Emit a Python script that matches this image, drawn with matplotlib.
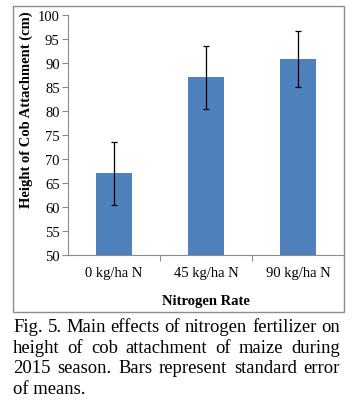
import matplotlib
matplotlib.use("Agg")
import matplotlib.pyplot as plt
from matplotlib.patches import Rectangle

# data
rates = ["0 kg/ha N", "45 kg/ha N", "90 kg/ha N"]
cob_height = [67.0, 87.0, 90.8]
std_err = [6.5, 6.5, 5.8]

caption_lines = ["Fig. 5. Main effects of nitrogen fertilizer on",
                 "height of cob attachment of maize during",
                 "2015 season. Bars represent standard error",
                 "of means."]

plt.rcParams['font.family'] = ['Liberation Serif', 'DejaVu Serif']

W, H = 354, 406
fig = plt.figure(figsize=(W / 100, H / 100), dpi=100)

# chart border like the Excel chart area
fig.patches.append(Rectangle((13 / W, 1 - 313 / H), (344 - 13) / W, (313 - 7) / H,
                             transform=fig.transFigure, fill=False,
                             edgecolor='#8c8c8c', lw=1.0))

ax = fig.add_axes([68 / W, 1 - 256 / H, (344 - 68) / W, (256 - 16) / H])
x = range(len(rates))
ax.bar(x, cob_height, width=0.4, color='#4f81bd', zorder=2)
ax.errorbar(x, cob_height, yerr=std_err, fmt='none', ecolor='black',
            elinewidth=0.9, capsize=2.5, capthick=0.9, zorder=3)

ax.set_ylim(50, 100)
ax.set_yticks(range(50, 101, 5))
ax.set_xlim(-0.5, len(rates) - 0.5)
ax.set_xticks([0.5, 1.5], minor=False)
ax.set_xticklabels([])
ax.set_xticks(list(x), minor=True)
ax.set_xticklabels(rates, minor=True)
ax.tick_params(axis='x', which='minor', length=0, pad=8, labelsize=10.5)
ax.tick_params(axis='x', which='major', length=4, color='#8c8c8c', direction='out')
ax.tick_params(axis='y', length=4, color='#8c8c8c', labelsize=10.5, pad=2)
for s in ['top', 'right']:
    ax.spines[s].set_visible(False)
for s in ['left', 'bottom']:
    ax.spines[s].set_color('#8c8c8c')

ax.set_ylabel("Height of Cob Attachment (cm)", fontweight='bold', fontsize=10.5)
ax.yaxis.set_label_coords(-0.125, 0.608)
ax.set_xlabel("Nitrogen Rate", fontweight='bold', fontsize=10.5, labelpad=11)

# justified caption below the chart
fig.canvas.draw()
renderer = fig.canvas.get_renderer()
left, right = 13, 340
y0 = 328
spacing = 20.5
csize = 13.4
for i, line in enumerate(caption_lines):
    words = line.split()
    ypix = H - (y0 + i * spacing)
    if i == len(caption_lines) - 1:
        fig.text(left / W, ypix / H, line, fontsize=csize, va='center', ha='left')
        continue
    texts = [fig.text(0, ypix / H, w, fontsize=csize, va='center', ha='left') for w in words]
    widths = [t.get_window_extent(renderer).width for t in texts]
    gap = (right - left - sum(widths)) / (len(words) - 1)
    xp = left
    for t, w in zip(texts, widths):
        t.set_x(xp / W)
        xp += w + gap

fig.savefig("out.png", dpi=100)
